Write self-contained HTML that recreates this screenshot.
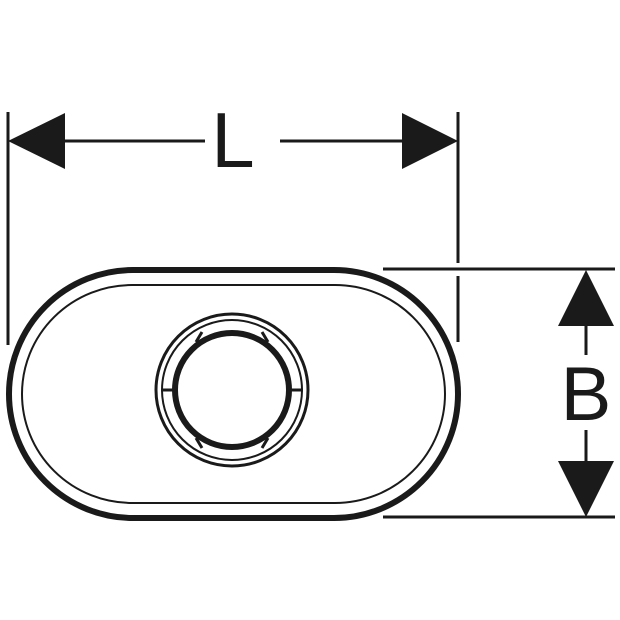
<!DOCTYPE html>
<html><head><style>html,body{margin:0;padding:0;background:#fff}svg{display:block}</style></head>
<body>
<svg width="620" height="620" viewBox="0 0 620 620" xmlns="http://www.w3.org/2000/svg">
<g stroke="#1a1a1a" fill="none">
<line x1="8" y1="112" x2="8" y2="345" stroke-width="3"/>
<line x1="458" y1="112" x2="458" y2="263" stroke-width="3"/>
<line x1="458" y1="276" x2="458" y2="342" stroke-width="3"/>
<line x1="60" y1="141" x2="205" y2="141" stroke-width="3"/>
<line x1="280" y1="141" x2="405" y2="141" stroke-width="3"/>
<line x1="383" y1="269" x2="615" y2="269" stroke-width="3"/>
<line x1="383" y1="517" x2="615" y2="517" stroke-width="3"/>
<line x1="586" y1="320" x2="586" y2="355" stroke-width="3"/>
<line x1="586" y1="430" x2="586" y2="465" stroke-width="3"/>
<rect x="9" y="270" width="449" height="248" rx="124" ry="124" stroke-width="6"/>
<rect x="22" y="285" width="423" height="218" rx="110" ry="109" stroke-width="2"/>
<circle cx="232" cy="390" r="76" stroke-width="3"/>
<circle cx="232" cy="390" r="70" stroke-width="2"/>
<circle cx="232" cy="390" r="57" stroke-width="6"/>
<g stroke-width="3">
<line x1="161" y1="390" x2="175" y2="390"/><line x1="289" y1="390" x2="303" y2="390"/>
<line x1="202" y1="332" x2="196" y2="342"/><line x1="262" y1="332" x2="268" y2="342"/>
<line x1="202" y1="448" x2="196" y2="438"/><line x1="262" y1="448" x2="268" y2="438"/>
</g>
</g>
<g fill="#1a1a1a">
<polygon points="8,141 65,113 65,169"/>
<polygon points="458,141 402,113 402,169"/>
<polygon points="586,270 558,326 614,326"/>
<polygon points="586,517 558,461 614,461"/>
</g>
<text x="233" y="167" font-family="Liberation Sans, sans-serif" font-size="78" text-anchor="middle" fill="#1a1a1a">L</text>
<text x="586" y="420" font-family="Liberation Sans, sans-serif" font-size="76" text-anchor="middle" fill="#1a1a1a">B</text>
</svg>
</body></html>
